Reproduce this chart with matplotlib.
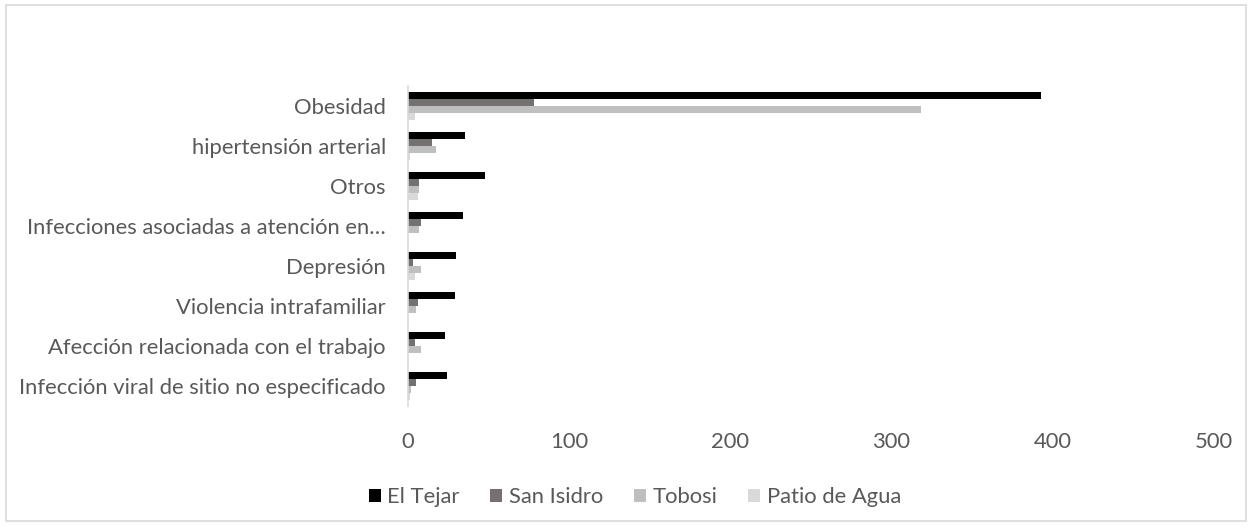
import numpy as np
import matplotlib
matplotlib.use("Agg")
import matplotlib.pyplot as plt
from matplotlib.patches import Rectangle

plt.rcParams['font.family'] = ['Lato', 'DejaVu Sans']

categorias = ["Obesidad", "hipertensión arterial", "Otros",
              "Infecciones asociadas a atención en…", "Depresión",
              "Violencia intrafamiliar", "Afección relacionada con el trabajo",
              "Infección viral de sitio no especificado"]
series = ["El Tejar", "San Isidro", "Tobosi", "Patio de Agua"]
el_tejar = [393, 35, 48, 34, 30, 29, 23, 24]
san_isidro = [78, 15, 7, 8, 3, 6, 4, 5]
tobosi = [318, 17, 7, 7, 8, 5, 8, 2]
patio_agua = [4, 1, 6, 0, 4, 0, 0, 1]
colores = ["#000000", "#767171", "#BFBFBF", "#D9D9D9"]

valores = [el_tejar, san_isidro, tobosi, patio_agua]

fig = plt.figure(figsize=(12.52, 5.29), dpi=100)
ax = fig.add_axes([0.326, 0.2325, 0.6435, 0.605])

y = np.arange(len(categorias))
h = 0.175
for k, (nombre, vals) in enumerate(zip(series, valores)):
    ax.barh(y + (k - 1.5) * h, vals, height=h, color=colores[k], label=nombre)

ax.set_ylim(len(categorias) - 0.5, -0.5)
ax.set_xlim(0, 500)
ax.set_xticks([0, 100, 200, 300, 400, 500])
ax.set_yticks(y)
ax.set_yticklabels(categorias)
ax.tick_params(length=0, labelsize=15.8, colors="#595959")
ax.tick_params(axis='x', pad=19)
ax.tick_params(axis='y', pad=16)
for s in ["top", "right", "bottom"]:
    ax.spines[s].set_visible(False)
ax.spines["left"].set_color("#D9D9D9")
ax.spines["left"].set_linewidth(1.2)

leg = fig.legend(loc="center", bbox_to_anchor=(0.507, 0.06), ncol=4, frameon=False,
                 fontsize=15.8, handlelength=0.55, handleheight=0.55, handletextpad=0.3,
                 columnspacing=1.4)
for t in leg.get_texts():
    t.set_color("#595959")

fig.patches.append(Rectangle((0.005, 0.015), 0.99, 0.975, transform=fig.transFigure,
                             fill=False, edgecolor="#D9D9D9", linewidth=1.2))

fig.savefig("out.png", dpi=100)
